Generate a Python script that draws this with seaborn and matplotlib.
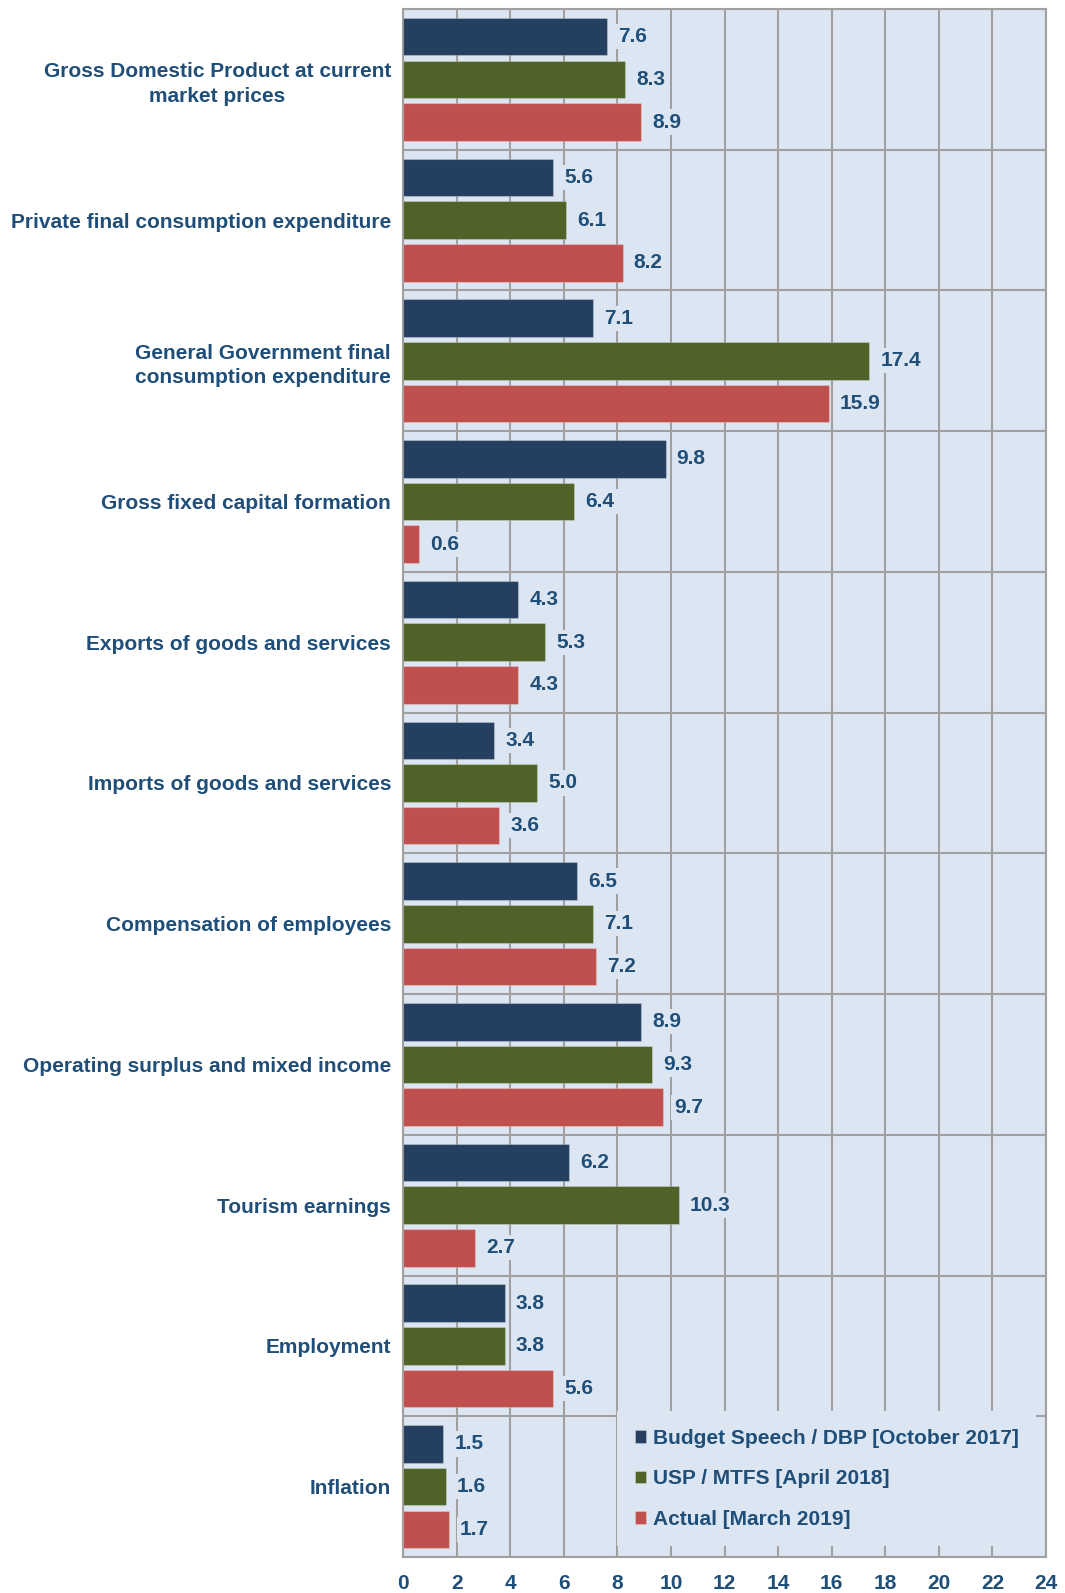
import matplotlib
matplotlib.use("Agg")
import matplotlib.pyplot as plt
from matplotlib.ticker import FixedLocator
import numpy as np
import pandas as pd
import seaborn as sns

# ---- data -------------------------------------------------------------
categories = [
    "Gross Domestic Product at current\nmarket prices",
    "Private final consumption expenditure",
    "General Government final\nconsumption expenditure",
    "Gross fixed capital formation",
    "Exports of goods and services",
    "Imports of goods and services",
    "Compensation of employees",
    "Operating surplus and mixed income",
    "Tourism earnings",
    "Employment",
    "Inflation",
]
series_names = [
    "Budget Speech / DBP [October 2017]",
    "USP / MTFS [April 2018]",
    "Actual [March 2019]",
]
budget_speech = [7.6, 5.6, 7.1, 9.8, 4.3, 3.4, 6.5, 8.9, 6.2, 3.8, 1.5]
usp_mtfs = [8.3, 6.1, 17.4, 6.4, 5.3, 5.0, 7.1, 9.3, 10.3, 3.8, 1.6]
actual = [8.9, 8.2, 15.9, 0.6, 4.3, 3.6, 7.2, 9.7, 2.7, 5.6, 1.7]
x_ticks = list(range(0, 25, 2))

# ---- styling ----------------------------------------------------------
navy = "#243F60"
olive = "#4F6228"
red = "#C0504D"
bg = "#DCE6F2"
text_col = "#1F4E79"
grid_col = "#A0A0A0"
palette = [navy, olive, red]

sns.set_style("white")
plt.rcParams["font.family"] = ["Liberation Sans", "DejaVu Sans"]
plt.rcParams["font.weight"] = "bold"
FS = 15

df = pd.DataFrame({
    "category": np.repeat(categories, 3),
    "series": series_names * len(categories),
    "value": np.ravel(np.column_stack([budget_speech, usp_mtfs, actual])),
})

fig = plt.figure(figsize=(10.65, 15.93), dpi=100)
ax = fig.add_axes([403 / 1065, 1 - 1557 / 1593, 643 / 1065, 1548 / 1593])
ax.set_facecolor(bg)

sns.barplot(
    data=df, y="category", x="value", hue="series", orient="h",
    order=categories, hue_order=series_names, palette=palette,
    width=0.91, gap=0.12, linewidth=0.8, edgecolor="#FFFFFF40",
    saturation=1, ax=ax, zorder=3, errorbar=None,
)

for cont in ax.containers:
    ax.bar_label(
        cont, fmt="%.1f", padding=8, fontsize=FS, fontweight="bold",
        color=text_col, zorder=4,
        bbox=dict(boxstyle="square,pad=0.15", fc=bg, ec="none"),
    )

ax.set_xlim(0, 24)
ax.set_ylim(len(categories) - 0.5, -0.5)
ax.set_xticks(x_ticks)
ax.set_xticklabels([str(t) for t in x_ticks], fontsize=FS, fontweight="bold",
                   color=text_col)
ax.tick_params(axis="x", length=0, pad=12)

# category labels, with separator ticks at the band boundaries
ax.set_yticks(range(len(categories)))
ax.set_yticklabels(categories, fontsize=FS, fontweight="bold", color=text_col,
                   multialignment="center", linespacing=1.35)
ax.tick_params(axis="y", which="major", length=0, pad=8.5)
ax.yaxis.set_minor_locator(FixedLocator(np.arange(-0.5, len(categories), 1.0)))
ax.tick_params(axis="y", which="minor", length=6, width=1.5, color=grid_col)

ax.grid(axis="x", which="major", color=grid_col, linewidth=1.5, zorder=1)
ax.grid(axis="y", which="minor", color=grid_col, linewidth=1.5, zorder=1)
ax.grid(axis="y", which="major", visible=False)
ax.set_axisbelow(True)

for s in ax.spines.values():
    s.set_color(grid_col)
    s.set_linewidth(1.5)

ax.set_xlabel("")
ax.set_ylabel("")

leg = ax.legend(
    loc="upper left", bbox_to_anchor=(0.333, 0.0943), borderaxespad=0,
    frameon=True, fancybox=False, facecolor=bg, edgecolor="none", framealpha=1,
    fontsize=FS, handlelength=0.55, handleheight=0.55, handletextpad=0.3,
    labelspacing=1.03, borderpad=0.85, title=None,
)
for t in leg.get_texts():
    t.set_color(text_col)
    t.set_fontweight("bold")
leg.set_zorder(5)

fig.savefig("out.png", dpi=100)
